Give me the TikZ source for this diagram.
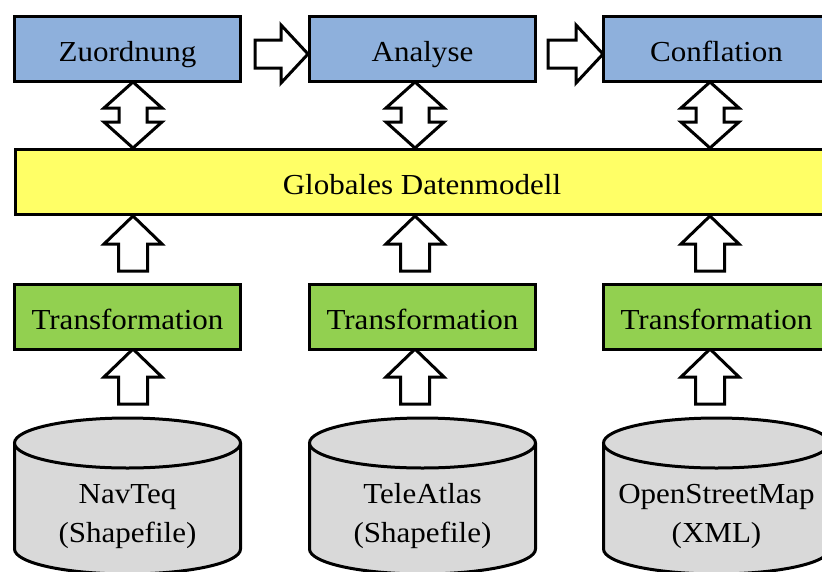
\documentclass[tikz,border=0pt]{standalone}
\usepackage{fontspec}
\setmainfont{Liberation Serif}[FakeStretch=1.07]
\definecolor{boxblue}{HTML}{8EB0DC}
\definecolor{boxyellow}{HTML}{FFFF66}
\definecolor{boxgreen}{HTML}{92D050}
\definecolor{cylgray}{HTML}{D9D9D9}
\newcommand{\UpArrow}[3]{% x, tip y, bottom y
  \draw[blockarrow] (#1,#2) -- ({#1+29},{#2+28}) -- ({#1+14.5},{#2+28}) -- ({#1+14.5},#3)
    -- ({#1-14.5},#3) -- ({#1-14.5},{#2+28}) -- ({#1-29},{#2+28}) -- cycle;}
\newcommand{\DblArrow}[3]{% x, top tip y, bottom tip y
  \draw[blockarrow] (#1,#2) -- ({#1+29},{#2+26}) -- ({#1+14},{#2+26}) -- ({#1+14},{#3-26})
    -- ({#1+29},{#3-26}) -- (#1,#3) -- ({#1-29},{#3-26}) -- ({#1-14},{#3-26})
    -- ({#1-14},{#2+26}) -- ({#1-29},{#2+26}) -- cycle;}
\newcommand{\RightArrow}[3]{% tail x, tip x, center y
  \draw[blockarrow] (#1,{#3-14}) -- ({#2-27},{#3-14}) -- ({#2-27},{#3-29}) -- (#2,#3)
    -- ({#2-27},{#3+29}) -- ({#2-27},{#3+14}) -- (#1,{#3+14}) -- cycle;}
\newcommand{\Cyl}[1]{% center x
  \draw[cylstyle] ({#1-113},443) -- ({#1-113},549)
    arc[start angle=180, end angle=0, x radius=113, y radius=25] -- ({#1+113},443);
  \draw[cylstyle] (#1,443) ellipse[x radius=113, y radius=25];}
\begin{document}
\begin{tikzpicture}[x=1pt,y=-1pt,line width=3pt,line join=miter,
  txt/.style={font=\fontsize{29}{39}\selectfont},
  procbox/.style={draw=black,rectangle,minimum width=226pt,minimum height=65pt,
    txt,text height=25pt,text depth=0pt,inner sep=0pt},
  blockarrow/.style={draw=black,fill=white},
  cylstyle/.style={draw=black,fill=cylgray},
  cyltext/.style={txt,align=center,anchor=base,inner sep=0pt}]
\useasboundingbox (0,0) rectangle (822,571);
\clip (0,0) rectangle (822,571);
% arrows
\RightArrow{255}{308}{54}
\RightArrow{548}{603}{54}
\DblArrow{133}{82}{148}
\DblArrow{415}{82}{148}
\DblArrow{710}{82}{148}
\UpArrow{133}{216}{271}
\UpArrow{415}{216}{271}
\UpArrow{710}{216}{271}
\UpArrow{133}{349}{404}
\UpArrow{415}{349}{404}
\UpArrow{710}{349}{404}
% top row
\node[procbox,fill=boxblue] (zu) at (127.5,48.5) {Zuordnung};
\node[procbox,fill=boxblue] (an) at (422.5,48.5) {Analyse};
\node[procbox,fill=boxblue] (co) at (716.5,48.5) {Conflation};
% global model
\node[procbox,fill=boxyellow,minimum width=813pt] (gd) at (422,181.5) {Globales Datenmodell};
% transformations
\node[procbox,fill=boxgreen] (t1) at (127.5,317) {Transformation};
\node[procbox,fill=boxgreen] (t2) at (422.5,317) {Transformation};
\node[procbox,fill=boxgreen] (t3) at (716.5,317) {Transformation};
% data sources
\Cyl{127.5}
\Cyl{422.5}
\Cyl{716.5}
\node[cyltext] (s1) at (127.5,542) {NavTeq\\(Shapefile)};
\node[cyltext] (s2) at (422.5,542) {TeleAtlas\\(Shapefile)};
\node[cyltext] (s3) at (716.5,542) {OpenStreetMap\\(XML)};
\end{tikzpicture}
\end{document}
